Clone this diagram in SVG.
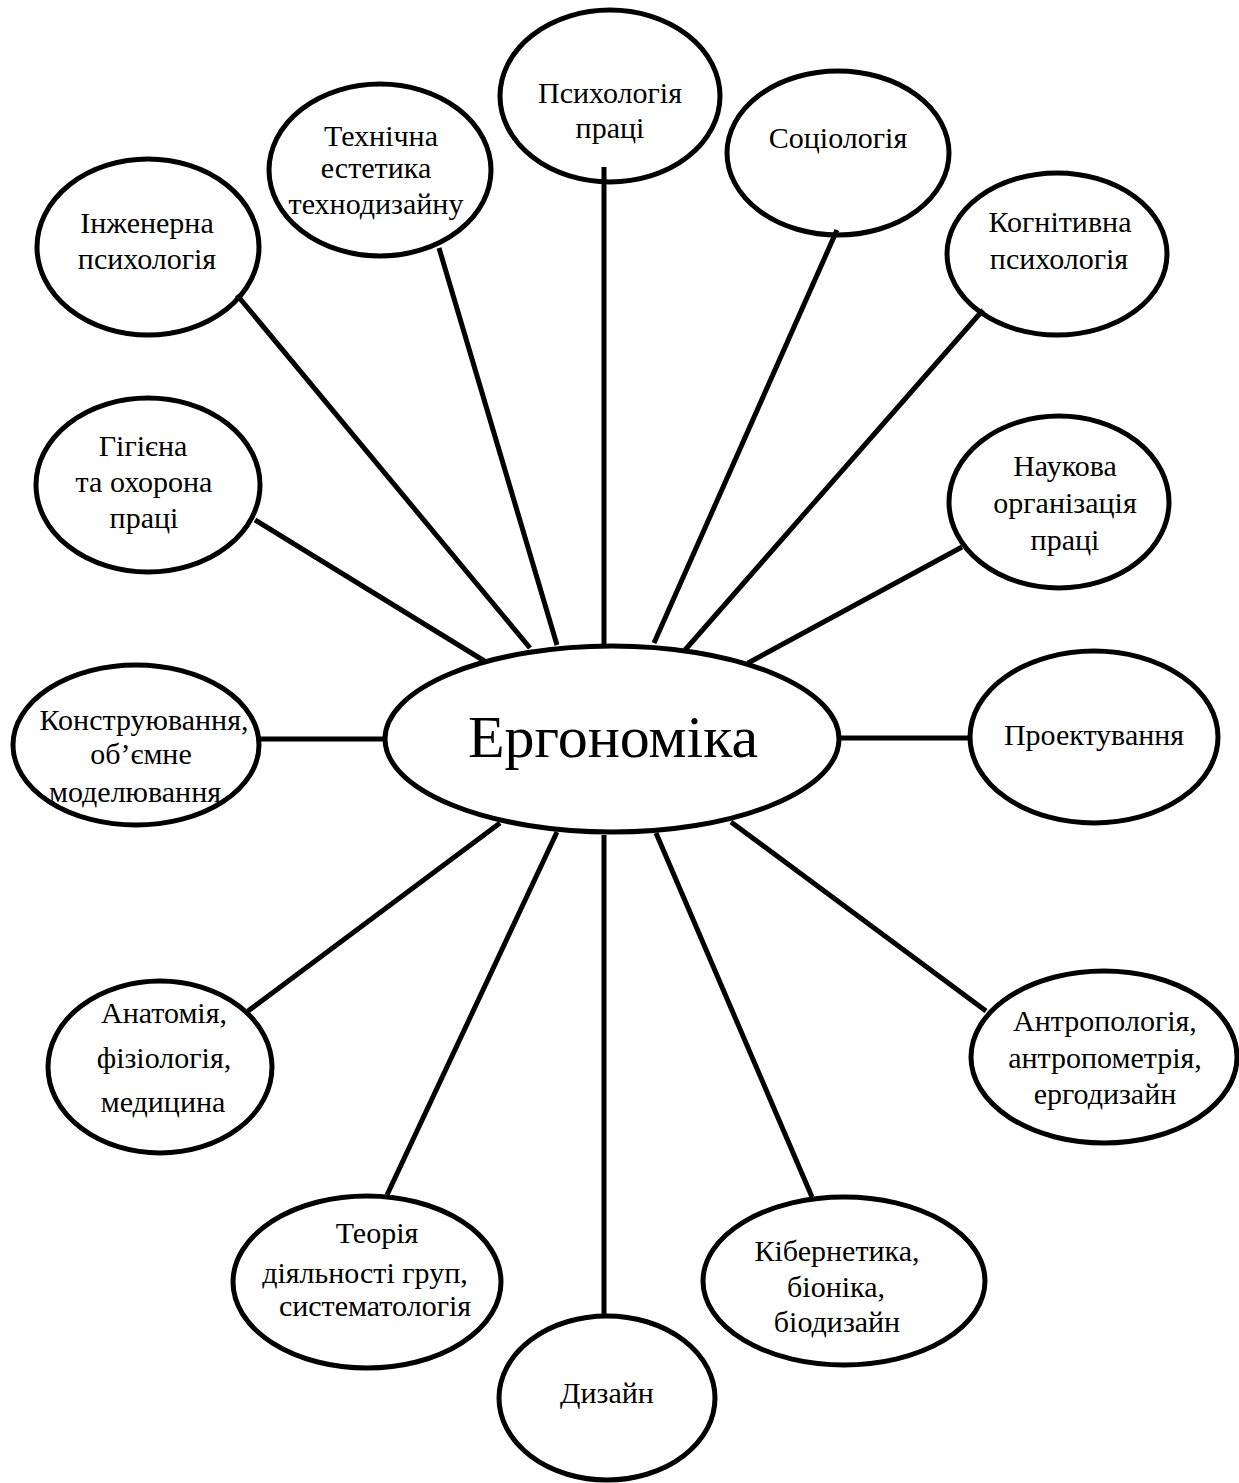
<svg xmlns="http://www.w3.org/2000/svg" width="1239" height="1483" viewBox="0 0 1239 1483">
<style>
.n ellipse{fill:#fff;stroke:#000;stroke-width:5}
.n text{font-family:"Liberation Serif","Times New Roman",serif;font-size:30px;fill:#000;text-anchor:middle}
#connectors line{stroke:#000;stroke-width:5;stroke-linecap:butt}
</style>
<rect width="1239" height="1483" fill="#fff"/>
<g id="nodes">
<g id="center" class="n"><ellipse cx="612" cy="739" rx="227" ry="93"/><text x="613" y="757" style="font-size:60px">Ергономіка</text></g>
<g id="psych-pratsi" class="n"><ellipse cx="610" cy="96" rx="110" ry="86"/><text x="610" y="103">Психологія</text><text x="610" y="138">праці</text></g>
<g id="tekhn-estetyka" class="n"><ellipse cx="380" cy="170" rx="111" ry="86"/><text x="381" y="146">Технічна</text><text x="376" y="178">естетика</text><text x="376" y="214">технодизайну</text></g>
<g id="inzh-psych" class="n"><ellipse cx="148" cy="247" rx="111" ry="88"/><text x="147" y="233">Інженерна</text><text x="147" y="269">психологія</text></g>
<g id="sotsiologiya" class="n"><ellipse cx="838" cy="153" rx="111" ry="82"/><text x="838" y="148">Соціологія</text></g>
<g id="kogn-psych" class="n"><ellipse cx="1057" cy="254" rx="110" ry="81"/><text x="1060" y="232">Когнітивна</text><text x="1059" y="269">психологія</text></g>
<g id="gigiena" class="n"><ellipse cx="148" cy="485" rx="112" ry="87"/><text x="143" y="456">Гігієна</text><text x="144" y="492">та охорона</text><text x="144" y="528">праці</text></g>
<g id="konstruyuvannya" class="n"><ellipse cx="136" cy="745" rx="123" ry="80"/><text x="144" y="730">Конструювання,</text><text x="141" y="764">об’ємне</text><text x="135" y="802">моделювання</text></g>
<g id="naukova" class="n"><ellipse cx="1059" cy="502" rx="110" ry="86"/><text x="1065" y="476">Наукова</text><text x="1065" y="513">організація</text><text x="1065" y="550">праці</text></g>
<g id="proektuvannya" class="n"><ellipse cx="1094" cy="737" rx="124" ry="86"/><text x="1094" y="745">Проектування</text></g>
<g id="anatomiya" class="n"><ellipse cx="160" cy="1067" rx="112" ry="86"/><text x="164" y="1023">Анатомія,</text><text x="164" y="1068">фізіологія,</text><text x="163" y="1112">медицина</text></g>
<g id="teoriya" class="n"><ellipse cx="367" cy="1282" rx="134" ry="86"/><text x="377" y="1243">Теорія</text><text x="365" y="1283">діяльності груп,</text><text x="375" y="1316">систематологія</text></g>
<g id="dyzain" class="n"><ellipse cx="607" cy="1398" rx="108" ry="82"/><text x="607" y="1403">Дизайн</text></g>
<g id="antropologiya" class="n"><ellipse cx="1104" cy="1057" rx="133" ry="86"/><text x="1105" y="1031">Антропологія,</text><text x="1105" y="1068">антропометрія,</text><text x="1105" y="1104">ергодизайн</text></g>
<g id="kibernetyka" class="n"><ellipse cx="844" cy="1281" rx="141" ry="84"/><text x="837" y="1261">Кібернетика,</text><text x="836" y="1297">біоніка,</text><text x="837" y="1332">біодизайн</text></g>
</g>
<g id="connectors">
<line x1="604" y1="167" x2="604" y2="645"/>
<line x1="439" y1="248" x2="557" y2="645"/>
<line x1="837" y1="230" x2="654" y2="643"/>
<line x1="237" y1="295" x2="530" y2="648"/>
<line x1="983" y1="310" x2="685" y2="650"/>
<line x1="255" y1="520" x2="486" y2="662"/>
<line x1="962" y1="547" x2="748" y2="663"/>
<line x1="258" y1="739" x2="386" y2="739"/>
<line x1="839" y1="738" x2="970" y2="738"/>
<line x1="248" y1="1011" x2="500" y2="823"/>
<line x1="986" y1="1011" x2="731" y2="822"/>
<line x1="387" y1="1195" x2="557" y2="832"/>
<line x1="812" y1="1197" x2="656" y2="833"/>
<line x1="604" y1="1316" x2="604" y2="835"/>
</g>
</svg>
